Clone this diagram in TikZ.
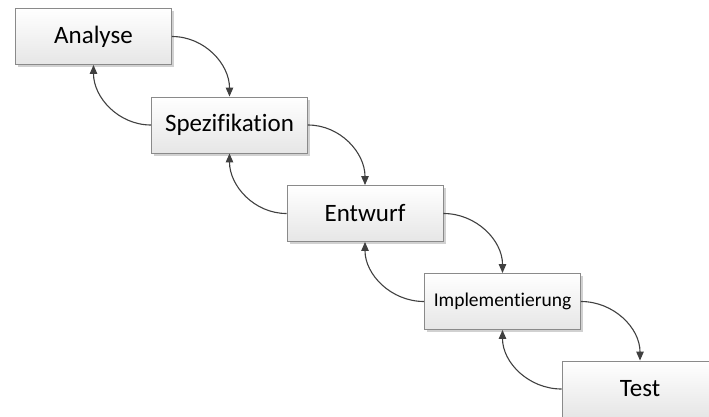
\documentclass[tikz,border=0pt]{standalone}
\usepackage{fontspec}
\setmainfont{Carlito}[Ligatures=NoCommon]
\usetikzlibrary{arrows.meta,shadows}
\definecolor{boxborder}{HTML}{8A8A8A}
\definecolor{boxfill}{HTML}{E6E6E6}
\definecolor{linegray}{HTML}{404040}
\begin{document}
\begin{tikzpicture}[x=1pt,y=-1pt,
  phase/.style={draw=boxborder, line width=0.9pt,
    top color=white, bottom color=boxfill,
    minimum width=156pt, minimum height=56pt, inner sep=0pt,
    font=\fontsize{25}{29}\selectfont,
    drop shadow={shadow xshift=2.5pt, shadow yshift=-2.5pt,
                 fill=black!30, opacity=0.6}},
  flow/.style={draw=linegray, line width=1.1pt,
    -{Triangle[length=9pt,width=7.5pt]}}]
  \useasboundingbox (0,0) rectangle (709,416);
  \clip (0,0) rectangle (709,416);

  % waterfall phases
  \node[phase] (ana)  at (93.5,36.5)  {Analyse};
  \node[phase] (spez) at (229.5,125)  {Spezifikation};
  \node[phase] (ent)  at (365,213.5)  {Entwurf};
  \node[phase, font=\fontsize{19.5}{23}\selectfont] (impl) at (502.5,301.5) {Implementierung};
  \node[phase] (test) at (640,389)    {Test};

  % forward flow: east side down to the next phase
  \draw[flow] (ana.east)  to[out=0,in=90] (spez.north);
  \draw[flow] (spez.east) to[out=0,in=90] (ent.north);
  \draw[flow] (ent.east)  to[out=0,in=90] (impl.north);
  \draw[flow] (impl.east) to[out=0,in=90] (test.north);

  % feedback: west side back up to the previous phase
  \draw[flow] (spez.west) to[out=180,in=-90] (ana.south);
  \draw[flow] (ent.west)  to[out=180,in=-90] (spez.south);
  \draw[flow] (impl.west) to[out=180,in=-90] (ent.south);
  \draw[flow] (test.west) to[out=180,in=-90] (impl.south);
\end{tikzpicture}
\end{document}
